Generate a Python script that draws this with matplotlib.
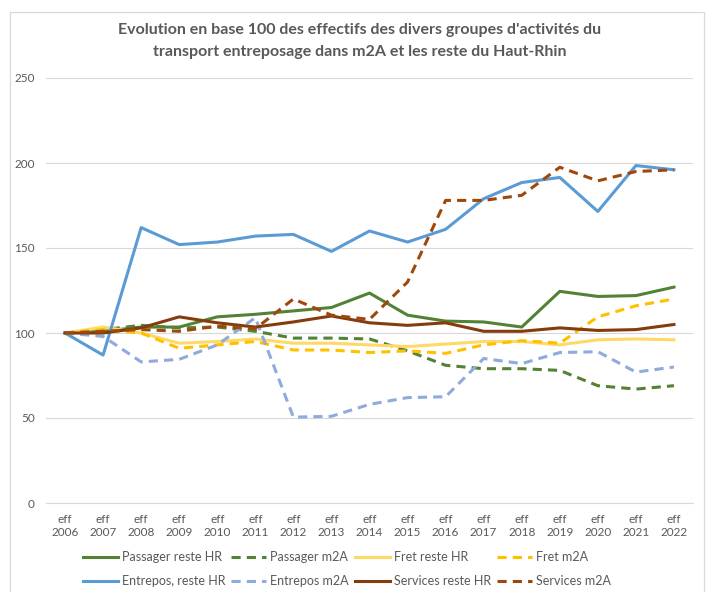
import matplotlib.pyplot as plt
from matplotlib.patches import Rectangle

plt.rcParams['font.family'] = ['Lato', 'DejaVu Sans']

years = list(range(2006, 2023))
labels = ['eff\n%d' % y for y in years]

passager_hr = [100, 101, 103.5, 103.5, 109.5, 111, 113, 115, 123.5, 110.5, 107, 106.5, 103.5, 124.5, 121.5, 122, 127]
passager_m2a = [100, 102, 104.5, 103, 103.5, 101, 97, 97, 96.5, 89.5, 81, 79, 79, 78, 69, 67, 69]
fret_hr = [100, 103.5, 100, 94, 95, 96.5, 94, 94, 93, 92, 93.5, 95, 95, 93, 96, 96.5, 96]
fret_m2a = [100, 102, 100, 91, 93, 95, 90, 90, 88.5, 89.5, 88, 93, 95.5, 94, 109.5, 116, 120]
entrepos_hr = [100, 87, 162, 152, 153.5, 157, 158, 148, 160, 153.5, 161, 179, 188.5, 191.5, 171.5, 198.5, 196]
entrepos_m2a = [100, 98, 83, 84.5, 93, 109, 50.5, 51, 58, 62, 62.5, 85, 82, 88.5, 89, 77, 80]
services_hr = [100, 100, 103, 109.5, 106, 103.5, 106.5, 110, 106, 104.5, 106, 101, 101, 103, 101.5, 102, 105]
services_m2a = [100, 101, 102, 101, 104, 102.5, 120, 110.5, 108, 130, 178, 178, 181, 197.5, 189.5, 195, 196]

series = [
    ('Passager reste HR', passager_hr, '#548235', '-'),
    ('Passager m2A', passager_m2a, '#548235', '--'),
    ('Fret reste HR', fret_hr, '#FFD966', '-'),
    ('Fret m2A', fret_m2a, '#FFC000', '--'),
    ('Entrepos, reste HR', entrepos_hr, '#5B9BD5', '-'),
    ('Entrepos m2A', entrepos_m2a, '#8FAADC', '--'),
    ('Services reste HR', services_hr, '#843C0C', '-'),
    ('Services m2A', services_m2a, '#9E480E', '--'),
]

fig = plt.figure(figsize=(7.08, 5.92), dpi=100)
# light chart border, open at the bottom like the source crop
fig.patches.append(Rectangle((10 / 708, -0.02), 694 / 708, (580 / 592) + 0.02,
                             transform=fig.transFigure, fill=False,
                             edgecolor='#D9D9D9', lw=0.9))
ax = fig.add_axes([46 / 708, 1 - 503 / 592, 647 / 708, 425 / 592])

x = range(len(years))
handles = []
for name, vals, col, ls in series:
    if ls == '--':
        h, = ax.plot(x, vals, color=col, lw=2.2, linestyle=(0, (3, 2)), label=name)
    else:
        h, = ax.plot(x, vals, color=col, lw=2.2, label=name)
    handles.append(h)

ax.set_xlim(-0.5, 16.5)
ax.set_ylim(0, 250)
ax.set_yticks([0, 50, 100, 150, 200, 250])
ax.set_xticks(list(x))
ax.set_xticklabels(labels)
ax.tick_params(length=0, labelsize=8.5, colors='#595959', pad=8)
ax.grid(axis='y', color='#D9D9D9', lw=0.8)
ax.set_axisbelow(True)
for s in ['top', 'right', 'left']:
    ax.spines[s].set_visible(False)
ax.spines['bottom'].set_color('#D9D9D9')

fig.text(0.508, 0.931, "Evolution en base 100 des effectifs des divers groupes d'activités du\n"
         "transport entreposage dans m2A et les reste du Haut-Rhin",
         ha='center', va='center', fontsize=11.5, fontweight='bold', color='#595959',
         linespacing=1.7)

# legend filled row by row (matplotlib fills by column)
order = [0, 4, 1, 5, 2, 6, 3, 7]
leg = fig.legend([handles[i] for i in order], [series[i][0] for i in order],
                 loc='center', bbox_to_anchor=(0.49, 1 - 569 / 592), ncol=4, frameon=False,
                 fontsize=9, handlelength=2.8, columnspacing=0.5, handletextpad=0.3,
                 labelspacing=0.95)
for t in leg.get_texts():
    t.set_color('#595959')

fig.savefig('out.png', dpi=100)
